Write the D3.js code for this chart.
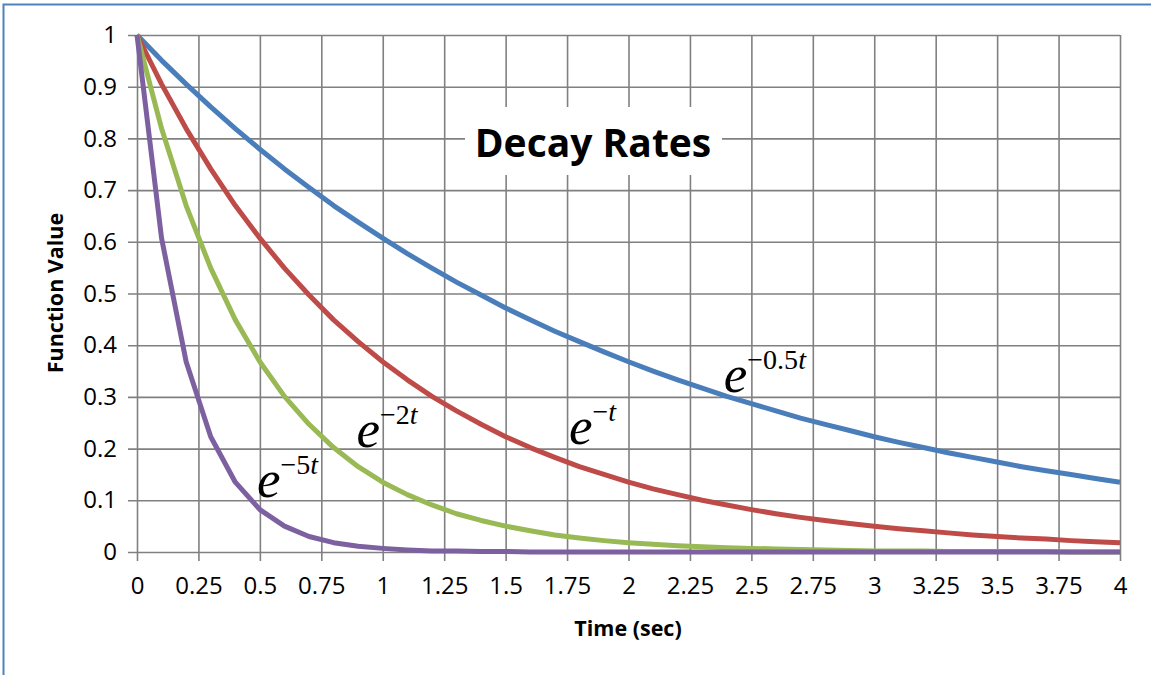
<!DOCTYPE html>
<html>
<head>
<meta charset="utf-8">
<script src="https://cdn.jsdelivr.net/npm/d3@7"></script>
<style>
	body { margin: 0; background: #ffffff; }
	svg { display: block; }
	.tick text { font-family: "Open Sans", sans-serif; font-size: 24px; fill: #000000; }
	.axisTitle { font-family: "Open Sans", sans-serif; font-weight: bold; font-size: 21.5px; }
	.eq { font-family: "Liberation Serif", "Times New Roman", serif; }
</style>
</head>
<body>
<div id="chart"></div>
<script>
//global variables
var times = [0, 0.1, 0.2, 0.3, 0.4, 0.5, 0.6, 0.7, 0.8, 0.9,
	1, 1.1, 1.2, 1.3, 1.4, 1.5, 1.6, 1.7, 1.8, 1.9,
	2, 2.1, 2.2, 2.3, 2.4, 2.5, 2.6, 2.7, 2.8, 2.9,
	3, 3.1, 3.2, 3.3, 3.4, 3.5, 3.6, 3.7, 3.8, 3.9, 4];

//series values
var halfRate = [1, 0.951, 0.905, 0.861, 0.819, 0.779, 0.741, 0.705, 0.670, 0.638,
	0.607, 0.577, 0.549, 0.522, 0.497, 0.472, 0.449, 0.427, 0.407, 0.387,
	0.368, 0.350, 0.333, 0.317, 0.301, 0.287, 0.273, 0.259, 0.247, 0.235,
	0.223, 0.212, 0.202, 0.192, 0.183, 0.174, 0.165, 0.157, 0.150, 0.142, 0.135];
var unitRate = [1, 0.905, 0.819, 0.741, 0.670, 0.607, 0.549, 0.497, 0.449, 0.407,
	0.368, 0.333, 0.301, 0.273, 0.247, 0.223, 0.202, 0.183, 0.165, 0.150,
	0.135, 0.122, 0.111, 0.100, 0.091, 0.082, 0.074, 0.067, 0.061, 0.055,
	0.050, 0.045, 0.041, 0.037, 0.033, 0.030, 0.027, 0.025, 0.022, 0.020, 0.018];
var doubleRate = [1, 0.819, 0.670, 0.549, 0.449, 0.368, 0.301, 0.247, 0.202, 0.165,
	0.135, 0.111, 0.091, 0.074, 0.061, 0.050, 0.041, 0.033, 0.027, 0.022,
	0.018, 0.015, 0.012, 0.010, 0.008, 0.007, 0.006, 0.005, 0.004, 0.003,
	0.002, 0.002, 0.002, 0.001, 0.001, 0.001, 0.001, 0.001, 0, 0, 0];
var fiveRate = [1, 0.607, 0.368, 0.223, 0.135, 0.082, 0.050, 0.030, 0.018, 0.011,
	0.007, 0.004, 0.002, 0.002, 0.001, 0.001, 0, 0, 0, 0,
	0, 0, 0, 0, 0, 0, 0, 0, 0, 0,
	0, 0, 0, 0, 0, 0, 0, 0, 0, 0, 0];

var seriesNames = ["-0.5", "-1", "-2", "-5"],
	seriesColours = ["#4a7ebb", "#be4b48", "#98b954", "#7d60a0"],
	seriesValues = [halfRate, unitRate, doubleRate, fiveRate];

//tick labels
var xTicks = [0, 0.25, 0.5, 0.75, 1, 1.25, 1.5, 1.75, 2, 2.25, 2.5, 2.75, 3, 3.25, 3.5, 3.75, 4],
	yTicks = [0, 0.1, 0.2, 0.3, 0.4, 0.5, 0.6, 0.7, 0.8, 0.9, 1];

//curve labels: exponent text and the (time, value) spot of the "e"
var labelExps = [["\u22120.5", "t"], ["\u2212", "t"], ["\u22122", "t"], ["\u22125", "t"]],
	labelTimes = [2.40, 1.77, 0.905, 0.50],
	labelValues = [0.311, 0.211, 0.205, 0.108];

//chart frame dimensions
var chartWidth = 1151,
	chartHeight = 675,
	plotLeft = 137,
	plotRight = 1120,
	plotTop = 35,
	plotBottom = 552;

var x = d3.scaleLinear().domain([0, 4]).range([plotLeft, plotRight]);
var y = d3.scaleLinear().domain([0, 1]).range([plotBottom, plotTop]);

function makeChart() {
	var svg = d3.select("#chart")
		.append("svg")
		.attr("width", chartWidth)
		.attr("height", chartHeight);

	//outer frame (only top and left edges show)
	svg.append("path")
		.attr("d", "M3.5," + chartHeight + "V4.5H" + chartWidth)
		.attr("fill", "none")
		.attr("stroke", "#4f81bd")
		.attr("stroke-width", 2);

	//x axis with vertical grid lines
	var xAxis = svg.append("g")
		.attr("transform", "translate(0," + plotBottom + ")")
		.call(d3.axisBottom(x)
			.tickValues(xTicks)
			.tickSizeOuter(0)
			.tickFormat(function(d) { return String(d); }));
	xAxis.select(".domain").remove();
	xAxis.selectAll(".tick line")
		.attr("y1", 9)
		.attr("y2", -(plotBottom - plotTop))
		.attr("stroke", "#808080")
		.attr("stroke-width", 1.6);
	xAxis.selectAll(".tick text").attr("y", 25).attr("dy", "0.71em");

	//y axis with horizontal grid lines
	var yAxis = svg.append("g")
		.attr("transform", "translate(" + plotLeft + ",0)")
		.call(d3.axisLeft(y)
			.tickValues(yTicks)
			.tickSizeOuter(0)
			.tickFormat(function(d) { return String(d); }));
	yAxis.select(".domain").remove();
	yAxis.selectAll(".tick line")
		.attr("x1", -9)
		.attr("x2", plotRight - plotLeft)
		.attr("stroke", "#808080")
		.attr("stroke-width", 1.6);
	yAxis.selectAll(".tick text").attr("x", -20);

	//title box
	var title = svg.append("g");
	title.append("rect")
		.attr("x", 465)
		.attr("y", 107)
		.attr("width", 257)
		.attr("height", 68)
		.attr("fill", "#ffffff");
	title.append("text")
		.attr("x", 593)
		.attr("y", 157)
		.attr("text-anchor", "middle")
		.style("font-family", "'Open Sans', sans-serif")
		.style("font-weight", "bold")
		.style("font-size", "39px")
		.text("Decay Rates");

	//lines
	var line = d3.line()
		.x(function(d, i) { return x(times[i]); })
		.y(function(d) { return y(d); });

	svg.selectAll(".series")
		.data(seriesValues)
		.enter()
		.append("path")
		.attr("class", "series")
		.attr("d", line)
		.attr("fill", "none")
		.attr("stroke", function(d, i) { return seriesColours[i]; })
		.attr("stroke-width", 5)
		.attr("stroke-linejoin", "round");

	//curve labels
	for (var i = 0; i < labelExps.length; i++) {
		var t = svg.append("text")
			.attr("class", "eq")
			.attr("x", x(labelTimes[i]) - 3)
			.attr("y", y(labelValues[i]) + 1);
		t.append("tspan")
			.style("font-style", "italic")
			.style("font-size", "53px")
			.text("e");
		t.append("tspan")
			.attr("dy", -23)
			.style("font-size", "28px")
			.text(labelExps[i][0]);
		t.append("tspan")
			.style("font-style", "italic")
			.style("font-size", "28px")
			.text(labelExps[i][1]);
	}

	//axis titles
	svg.append("text")
		.attr("class", "axisTitle")
		.attr("x", 628)
		.attr("y", 636)
		.attr("text-anchor", "middle")
		.text("Time (sec)");

	svg.append("text")
		.attr("class", "axisTitle")
		.attr("transform", "translate(63,293) rotate(-90)")
		.attr("text-anchor", "middle")
		.text("Function Value");
}

makeChart();
</script>
</body>
</html>
